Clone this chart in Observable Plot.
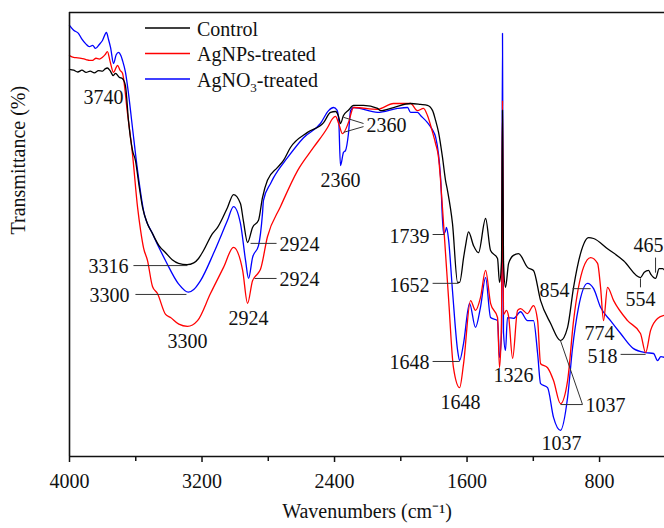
<!DOCTYPE html>
<html><head><meta charset="utf-8">
<script src="https://cdn.jsdelivr.net/npm/d3@7"></script>
<script src="https://cdn.jsdelivr.net/npm/@observablehq/plot@0.6"></script>
<style>
body{margin:0;background:#fff;}
#wrap{position:relative;width:664px;height:528px;}
#legend{position:absolute;left:0;top:0;}
</style>
</head><body>
<div id="wrap"></div>
<script>
// ---- data (wavenumber cm-1, transmittance %) ----
const controlSpectrum = [[4000,87.2],[3975,87.0],[3950,86.6],[3925,87.0],[3900,86.5],[3875,86.8],[3850,86.4],[3825,86.9],[3800,86.8],[3785,87.3],[3771,87.5],[3755,86.9],[3736,85.8],[3722,86.3],[3700,85.4],[3680,85.1],[3662,83.5],[3644,75.7],[3620,69.0],[3602,66.7],[3580,61.0],[3559,56.1],[3530,52.5],[3499,50.2],[3460,47.5],[3420,45.9],[3380,44.3],[3342,43.5],[3290,43.2],[3250,43.6],[3221,44.6],[3191,46.4],[3137,50.2],[3106,51.6],[3046,56.1],[3010,59.0],[2968,57.0],[2950,53.0],[2925,48.2],[2895,51.6],[2859,53.2],[2835,58.3],[2805,62.2],[2744,65.1],[2708,66.7],[2666,69.6],[2563,73.0],[2466,75.2],[2424,77.5],[2394,77.7],[2375,76.5],[2364,75.0],[2346,76.8],[2316,78.0],[2285,79.1],[2225,79.1],[2140,78.4],[2122,77.9],[2044,78.6],[1941,79.5],[1881,79.3],[1839,79.1],[1808,77.9],[1790,75.7],[1772,73.0],[1748,67.3],[1730,62.2],[1718,59.9],[1688,52.5],[1657,39.2],[1645,39.2],[1620,45.0],[1609,47.5],[1591,50.6],[1561,47.5],[1531,45.9],[1488,53.6],[1458,46.4],[1416,44.6],[1404,39.2],[1392,44.0],[1386,78.0],[1380,44.0],[1368,38.1],[1349,43.5],[1320,45.3],[1289,45.7],[1235,42.6],[1199,41.9],[1156,35.1],[1096,30.0],[1036,26.1],[993,29.1],[957,38.1],[915,45.7],[866,49.3],[836,49.1],[752,46.8],[655,44.1],[553,40.3],[530,41.5],[504,41.9],[490,41.0],[462,40.1],[440,42.3],[420,42.3],[408,42.0]];

const agnpSpectrum = [[4000,90.3],[3975,89.9],[3950,89.8],[3922,89.6],[3900,89.4],[3880,89.2],[3861,89.2],[3840,89.7],[3820,89.5],[3801,89.9],[3785,90.5],[3771,91.2],[3755,89.0],[3734,86.5],[3720,87.5],[3710,88.1],[3695,87.0],[3680,86.3],[3650,77.3],[3620,68.2],[3589,56.1],[3571,51.0],[3553,47.0],[3529,44.1],[3499,38.3],[3469,36.7],[3420,32.0],[3390,31.3],[3340,29.8],[3288,29.3],[3227,30.6],[3149,36.7],[3070,42.6],[3010,47.1],[2955,42.0],[2925,34.5],[2895,39.6],[2859,41.4],[2847,42.2],[2805,49.5],[2726,56.3],[2623,64.4],[2527,69.6],[2442,74.1],[2412,76.1],[2394,76.6],[2375,75.0],[2352,72.7],[2316,75.2],[2285,78.6],[2140,78.2],[2044,79.5],[1941,79.5],[1899,77.9],[1863,78.4],[1839,76.8],[1808,73.0],[1790,70.5],[1772,67.3],[1760,62.2],[1742,52.5],[1712,35.8],[1682,20.0],[1645,15.5],[1621,20.9],[1579,35.1],[1549,32.9],[1519,35.8],[1488,41.9],[1458,34.5],[1416,31.3],[1404,20.0],[1392,30.0],[1386,80.2],[1380,32.0],[1362,32.9],[1349,31.5],[1325,22.1],[1295,32.9],[1277,33.3],[1235,32.2],[1199,34.0],[1174,30.6],[1156,20.9],[1114,20.0],[1078,17.1],[1036,11.9],[993,17.1],[957,30.6],[897,42.6],[854,44.8],[812,43.5],[794,38.1],[776,30.6],[752,38.1],[715,35.1],[631,30.6],[553,27.7],[522,23.4],[492,28.4],[450,31.1],[408,31.8]];

const agno3Spectrum = [[4000,97.1],[3975,96.0],[3946,95.3],[3925,94.0],[3903,93.0],[3880,92.3],[3860,92.6],[3843,91.9],[3820,92.8],[3801,93.7],[3777,95.5],[3765,94.0],[3752,92.1],[3734,88.5],[3718,90.5],[3704,91.0],[3690,90.3],[3680,89.2],[3662,86.5],[3644,81.8],[3620,74.1],[3589,64.4],[3553,55.4],[3499,50.2],[3420,44.1],[3342,38.9],[3282,37.0],[3250,37.6],[3209,39.6],[3131,45.7],[3046,53.2],[3010,56.3],[2968,52.5],[2937,44.1],[2919,40.1],[2895,44.8],[2859,47.5],[2835,54.7],[2829,57.7],[2786,61.5],[2768,62.8],[2684,67.3],[2587,71.8],[2485,75.0],[2436,77.9],[2406,78.6],[2385,78.0],[2375,76.0],[2364,65.5],[2346,68.5],[2334,68.9],[2316,72.7],[2303,77.9],[2285,78.6],[2140,77.5],[2020,78.4],[1959,78.6],[1941,77.5],[1899,77.5],[1881,76.8],[1839,75.2],[1808,73.5],[1790,72.0],[1772,68.0],[1760,63.0],[1742,50.2],[1730,50.8],[1724,51.6],[1712,49.0],[1688,37.4],[1657,23.9],[1645,21.6],[1621,25.5],[1585,34.5],[1549,29.1],[1519,33.6],[1488,40.3],[1458,31.3],[1416,30.6],[1404,22.3],[1392,28.0],[1386,95.3],[1380,28.0],[1368,23.9],[1356,31.3],[1319,31.1],[1277,32.6],[1235,30.6],[1199,30.6],[1174,23.2],[1156,16.4],[1114,15.5],[1078,8.8],[1036,5.9],[993,13.3],[963,24.5],[927,33.6],[873,39.0],[836,37.8],[794,33.6],[734,30.6],[673,27.7],[595,24.3],[522,23.4],[474,23.2],[450,21.6],[430,22.5],[408,22.3]];

const seriesNames = ["Control", "AgNPs-treated", "AgNO3-treated"];
const seriesColors = ["#000000", "#ff0000", "#0000ff"];

const xMajorTicks = [4000, 3200, 2400, 1600, 800];
const xMinorTicks = [3600, 2800, 2000, 1200];

// peak annotations: label, wavenumber, transmittance, anchor
const peakLabels = [
  ["3740", 3795, 80.9, "middle"],
  ["3316", 3644, 42.8, "end"],
  ["3300", 3638, 36.3, "end"],
  ["3300", 3288, 25.9, "middle"],
  ["2924", 2732, 47.7, "start"],
  ["2924", 2732, 39.9, "start"],
  ["2924", 2919, 31.1, "middle"],
  ["2360", 2364, 62.2, "middle"],
  ["2360", 2207, 74.5, "start"],
  ["1739", 1826, 49.5, "end"],
  ["1652", 1826, 38.5, "end"],
  ["1648", 1826, 21.2, "end"],
  ["1648", 1639, 12.2, "middle"],
  ["1326", 1319, 18.2, "middle"],
  ["1037", 885, 11.5, "start"],
  ["1037", 1030, 2.9, "middle"],
  ["854", 1162, 37.4, "start"],
  ["774", 800, 27.7, "middle"],
  ["518", 691, 22.5, "end"],
  ["554", 553, 35.4, "middle"],
  ["465", 595, 47.5, "start"]
];
// leader lines: wn1, t1, wn2, t2
const leaderLines = [
  [3614, 43.0, 3288, 43.0],
  [3602, 36.5, 3294, 36.5],
  [2907, 48.0, 2750, 48.0],
  [2883, 40.1, 2750, 40.1],
  [2346, 76.4, 2225, 75.0],
  [2346, 73.0, 2225, 74.3],
  [1808, 50.0, 1736, 50.0],
  [1808, 39.0, 1651, 39.0],
  [1808, 21.4, 1645, 21.4],
  [1036, 11.7, 903, 11.7],
  [1036, 26.1, 903, 11.7],
  [963, 37.8, 854, 37.8],
  [673, 23.0, 522, 23.0],
  [553, 40.1, 553, 38.1],
  [462, 44.8, 462, 41.4]
];

// ---- build ----
const toRows = (arr) => arr.map(([wn, t]) => ({wn, t}));
const control = toRows(controlSpectrum);
const agnp = toRows(agnpSpectrum);
const agno3 = toRows(agno3Spectrum);
const labels = peakLabels.map(([text, wn, t, anchor]) => ({text, wn, t, anchor}));
const leaders = leaderLines.map(([x1, y1, x2, y2]) => ({x1, y1, x2, y2}));

const serifFont = "Liberation Serif";
const textMark = (anchor) => Plot.text(labels.filter(d => d.anchor === anchor), {
  x: "wn", y: "t", text: "text", textAnchor: anchor, lineAnchor: "middle", fontSize: 20, fill: "#111", fontFamily: serifFont
});

const chart = Plot.plot({
  width: 664, height: 528,
  marginLeft: 69, marginRight: 0, marginTop: 12, marginBottom: 72,
  x: {domain: [4000, 408], axis: null},
  y: {domain: [0, 100], axis: null},
  style: {fontFamily: serifFont, fontSize: "20px", background: "white", color: "#111"},
  marks: [
    Plot.line(agno3, {x: "wn", y: "t", stroke: seriesColors[2], strokeWidth: 1.3, curve: "monotone-x"}),
    Plot.line(agnp, {x: "wn", y: "t", stroke: seriesColors[1], strokeWidth: 1.3, curve: "monotone-x"}),
    Plot.line(control, {x: "wn", y: "t", stroke: seriesColors[0], strokeWidth: 1.3, curve: "monotone-x"}),
    Plot.link(leaders, {x1: "x1", y1: "y1", x2: "x2", y2: "y2", stroke: "#333", strokeWidth: 1}),
    textMark("start"), textMark("middle"), textMark("end"),
    Plot.ruleY([0], {stroke: "#111", strokeWidth: 1.6}),
    Plot.ruleY([100], {stroke: "#111", strokeWidth: 1.6}),
    Plot.ruleX([4000], {stroke: "#111", strokeWidth: 1.6}),
    Plot.axisX(xMajorTicks, {tickSize: 6, tickPadding: 11, tickFormat: d => String(d), fontSize: 20, label: null, strokeWidth: 1.5, fontFamily: serifFont}),
    Plot.axisX(xMinorTicks, {tickSize: 5, tickFormat: () => "", label: null, strokeWidth: 1.5}),
    Plot.text(["Wavenumbers (cm⁻¹)"], {frameAnchor: "bottom", dy: 61, fontSize: 20, fontFamily: serifFont}),
    Plot.text(["Transmittance (%)"], {frameAnchor: "left", rotate: -90, dx: -51, fontSize: 20, fontFamily: serifFont})
  ]
});
const wrap = document.getElementById("wrap");
wrap.appendChild(chart);

// legend overlay
const leg = d3.create("svg").attr("id", "legend").attr("width", 420).attr("height", 100)
  .attr("font-family", serifFont).attr("font-size", 20);
seriesNames.forEach((name, i) => {
  const y = 28 + i * 25.5;
  leg.append("line").attr("x1", 145).attr("x2", 190).attr("y1", y).attr("y2", y)
    .attr("stroke", seriesColors[i]).attr("stroke-width", 1.3);
  const t = leg.append("text").attr("x", 197).attr("y", y + 7.5).attr("fill", "#111");
  const m = name.match(/^(AgNO)(3)(.*)$/);
  if (m) {
    t.append("tspan").text(m[1]);
    t.append("tspan").attr("font-size", 13).attr("dy", 5).text(m[2]);
    t.append("tspan").attr("dy", -5).text(m[3]);
  } else t.text(name);
});
wrap.appendChild(leg.node());
</script>
</body></html>
